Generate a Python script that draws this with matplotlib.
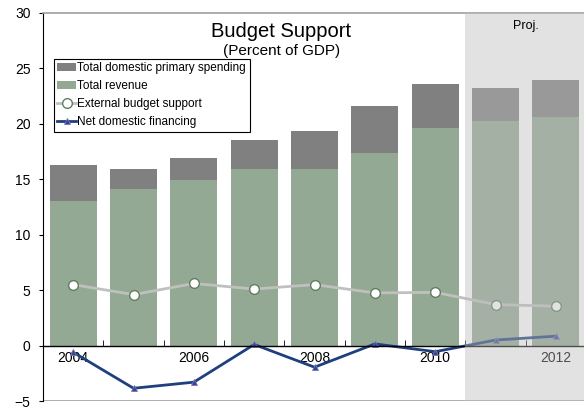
"""Budget support chart: revenue and spending bars with financing lines."""
import matplotlib
matplotlib.use("Agg")
import matplotlib.pyplot as plt
from matplotlib.ticker import FixedLocator

plt.rcParams["font.family"] = ["Liberation Sans", "DejaVu Sans"]

years = [2004, 2005, 2006, 2007, 2008, 2009, 2010, 2011, 2012]
total_spending = [16.3, 15.9, 16.9, 18.5, 19.4, 21.6, 23.6, 23.2, 24.0]
total_revenue = [13.0, 14.1, 14.9, 15.9, 15.9, 17.4, 19.6, 20.3, 20.6]
external_support = [5.5, 4.6, 5.6, 5.1, 5.5, 4.75, 4.8, 3.7, 3.55]
net_domestic = [-0.6, -3.85, -3.3, 0.1, -1.95, 0.15, -0.55, 0.5, 0.85]
label_years = [2004, 2006, 2008, 2010, 2012]
proj_start = 2010.5

fig = plt.figure(figsize=(5.84, 4.15), dpi=100)
ax = fig.add_axes([0.0736, 0.0337, 0.93, 0.935])

# spending shown as the grey cap on top of revenue
gap = [s - r for s, r in zip(total_spending, total_revenue)]
rev = ax.bar(years, total_revenue, width=0.78, color="#93a993", zorder=1)
spend = ax.bar(years, gap, bottom=total_revenue, width=0.78, color="#808080",
               zorder=1)

ext, = ax.plot(years, external_support, color="#c0c0c0", lw=2, marker="o", ms=7,
               mfc="white", mec="#5f7f5f", mew=1, zorder=2)
net, = ax.plot(years, net_domestic, color="#1f3f7f", lw=2, marker="^", ms=5,
               mfc="#2a4a8f", mec="#8070b0", mew=0.6, zorder=2)

# projection period overlay
ax.axvspan(proj_start, 2012.5, color="#bcbcbc", alpha=0.42, lw=0, zorder=4)
ax.text(2011.5, 28.8, "Proj.", ha="center", va="center", fontsize=9, zorder=6)

ax.text(2007.45, 28.3, "Budget Support", ha="center", va="center", fontsize=14.5)
ax.text(2007.45, 26.6, "(Percent of GDP)", ha="center", va="center", fontsize=11)

ax.set_xlim(2003.5, 2012.5)
ax.set_ylim(-5, 30)
ax.set_yticks([-5, 0, 5, 10, 15, 20, 25, 30])
ax.tick_params(axis="y", direction="out", length=3, labelsize=10, pad=6)

ax.spines["bottom"].set_position(("data", 0))
ax.spines["bottom"].set_linewidth(1)
ax.spines["right"].set_visible(False)
ax.spines["top"].set_color("#a0a0a0")
ax.spines["top"].set_linewidth(1.2)
ax.axhline(-5, color="#a0a0a0", lw=1.2, zorder=0.5)
ax.xaxis.set_major_locator(FixedLocator(label_years))
ax.xaxis.set_minor_locator(FixedLocator([y + 0.5 for y in years[:-1]]))
ax.tick_params(axis="x", which="major", length=0, labelsize=10, pad=4)
ax.tick_params(axis="x", which="minor", direction="in", length=4)

leg = ax.legend([spend, rev, ext, net],
                ["Total domestic primary spending", "Total revenue",
                 "External budget support", "Net domestic financing"],
                loc="upper left", bbox_to_anchor=(0.02, 0.882), borderaxespad=0,
                fontsize=8.5, fancybox=False, edgecolor="black", framealpha=1,
                handlelength=1.6, handletextpad=0.1, labelspacing=0.5,
                borderpad=0.3)
leg.get_frame().set_linewidth(0.8)
leg.set_zorder(7)

fig.savefig("out.png", dpi=100)
